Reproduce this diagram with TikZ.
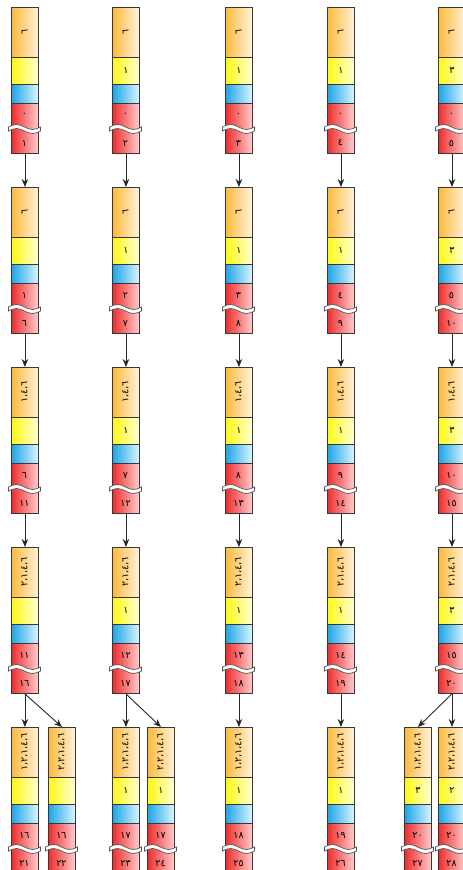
\documentclass[tikz,border=0pt]{standalone}
\usepackage{fontspec}
\usetikzlibrary{arrows.meta}
\newfontfamily\arabicfont[Script=Arabic]{DejaVu Sans}
\definecolor{orL}{RGB}{252,186,60}
\definecolor{orR}{RGB}{255,242,220}
\definecolor{yeL}{RGB}{255,248,20}
\definecolor{yeR}{RGB}{255,255,215}
\definecolor{blL}{RGB}{30,165,230}
\definecolor{blR}{RGB}{220,245,255}
\definecolor{rdL}{RGB}{238,45,45}
\definecolor{rdR}{RGB}{255,205,205}
\definecolor{edge}{RGB}{55,55,55}
\tikzset{
  seg/.style={draw=edge, line width=0.9pt, minimum width=27pt, inner sep=0pt, anchor=north west},
  oseg/.style={seg, left color=orL, right color=orR, minimum height=50pt},
  yseg/.style={seg, left color=yeL, right color=yeR, minimum height=27pt},
  bseg/.style={seg, left color=blL, right color=blR, minimum height=19pt},
  rseg/.style={seg, left color=rdL, right color=rdR, minimum height=50pt},
  lbl/.style={inner sep=0pt, font=\arabicfont\fontsize{9.5}{10}\selectfont, text=black},
  wavy/.style={fill=white, draw=edge!85, line width=0.7pt},
  arr/.style={draw=edge!70!black, line width=0.9pt, -{Stealth[length=8pt,width=6.5pt]}}
}
% #1 name, #2 left x, #3 top y, #4 orange text, #5 yellow text, #6 red top, #7 red bottom
\newcommand{\mkcol}[7]{%
  \begin{scope}[shift={(#2,#3)}]
    \node[oseg] (#1o) at (0,0) {};
    \node[lbl, rotate=90] (#1ot) at (13.5,25) {#4};
    \node[yseg, lbl] (#1y) at (0,50) {#5};
    \node[bseg] (#1b) at (0,77) {};
    \node[rseg] (#1r) at (0,96) {};
    \path[wavy] (-2.5,120) sin (5.5,117.5) cos (13.5,120) sin (21.5,122.5) cos (29.5,120)
      -- (29.5,124) sin (21.5,126.5) cos (13.5,124) sin (5.5,121.5) cos (-2.5,124) -- cycle;
    \node[lbl] (#1rt) at (13.5,108) {#6};
    \node[lbl] (#1rb) at (13.5,136) {#7};
  \end{scope}}
\begin{document}
\begin{tikzpicture}[x=1pt,y=-1pt]
\path[use as bounding box] (0,0) rectangle (463,870);
\clip (0,0) rectangle (463,870);
% row 1
\mkcol{c1r1}{11}{7}{٦}{}{٠}{١}
\mkcol{c2r1}{112}{7}{٦}{١}{٠}{٢}
\mkcol{c3r1}{225}{7}{٦}{١}{٠}{٣}
\mkcol{c4r1}{327}{7}{٦}{١}{٠}{٤}
\mkcol{c5r1}{438}{7}{٦}{٣}{٠}{٥}
% row 2
\mkcol{c1r2}{11}{187}{٦}{}{١}{٦}
\mkcol{c2r2}{112}{187}{٦}{١}{٢}{٧}
\mkcol{c3r2}{225}{187}{٦}{١}{٣}{٨}
\mkcol{c4r2}{327}{187}{٦}{١}{٤}{٩}
\mkcol{c5r2}{438}{187}{٦}{٣}{٥}{١٠}
% row 3
\mkcol{c1r3}{11}{367}{١،٤،٦}{}{٦}{١١}
\mkcol{c2r3}{112}{367}{١،٤،٦}{١}{٧}{١٢}
\mkcol{c3r3}{225}{367}{١،٤،٦}{١}{٨}{١٣}
\mkcol{c4r3}{327}{367}{١،٤،٦}{١}{٩}{١٤}
\mkcol{c5r3}{438}{367}{١،٤،٦}{٣}{١٠}{١٥}
% row 4
\mkcol{c1r4}{11}{547}{٢،١،٤،٦}{}{١١}{١٦}
\mkcol{c2r4}{112}{547}{٢،١،٤،٦}{١}{١٢}{١٧}
\mkcol{c3r4}{225}{547}{٢،١،٤،٦}{١}{١٣}{١٨}
\mkcol{c4r4}{327}{547}{٢،١،٤،٦}{١}{١٤}{١٩}
\mkcol{c5r4}{438}{547}{٢،١،٤،٦}{٣}{١٥}{٢٠}
% row 5
\mkcol{c1r5a}{11}{727}{١،٢،١،٤،٦}{}{١٦}{٢١}
\mkcol{c1r5b}{48}{727}{٢،٢،١،٤،٦}{}{١٦}{٢٢}
\mkcol{c2r5a}{112}{727}{١،٢،١،٤،٦}{١}{١٧}{٢٣}
\mkcol{c2r5b}{147}{727}{٢،٢،١،٤،٦}{١}{١٧}{٢٤}
\mkcol{c3r5}{225}{727}{١،٢،١،٤،٦}{١}{١٨}{٢٥}
\mkcol{c4r5}{327}{727}{١،٢،١،٤،٦}{١}{١٩}{٢٦}
\mkcol{c5r5a}{404}{727}{١،٢،١،٤،٦}{٣}{٢٠}{٢٧}
\mkcol{c5r5b}{438}{727}{٢،٢،١،٤،٦}{٢}{٢٠}{٢٨}
% connectors
\foreach \c in {c1,c2,c3,c4,c5}{
  \draw[arr] (\c r1r.south) -- (\c r2o.north);
  \draw[arr] (\c r2r.south) -- (\c r3o.north);
  \draw[arr] (\c r3r.south) -- (\c r4o.north);
}
\draw[arr] (c1r4r.south) -- (c1r5ao.north);
\draw[arr] (c1r4r.south) -- (c1r5bo.north);
\draw[arr] (c2r4r.south) -- (c2r5ao.north);
\draw[arr] (c2r4r.south) -- (c2r5bo.north);
\draw[arr] (c3r4r.south) -- (c3r5o.north);
\draw[arr] (c4r4r.south) -- (c4r5o.north);
\draw[arr] (c5r4r.south) -- (c5r5ao.north);
\draw[arr] (c5r4r.south) -- (c5r5bo.north);
\end{tikzpicture}
\end{document}
